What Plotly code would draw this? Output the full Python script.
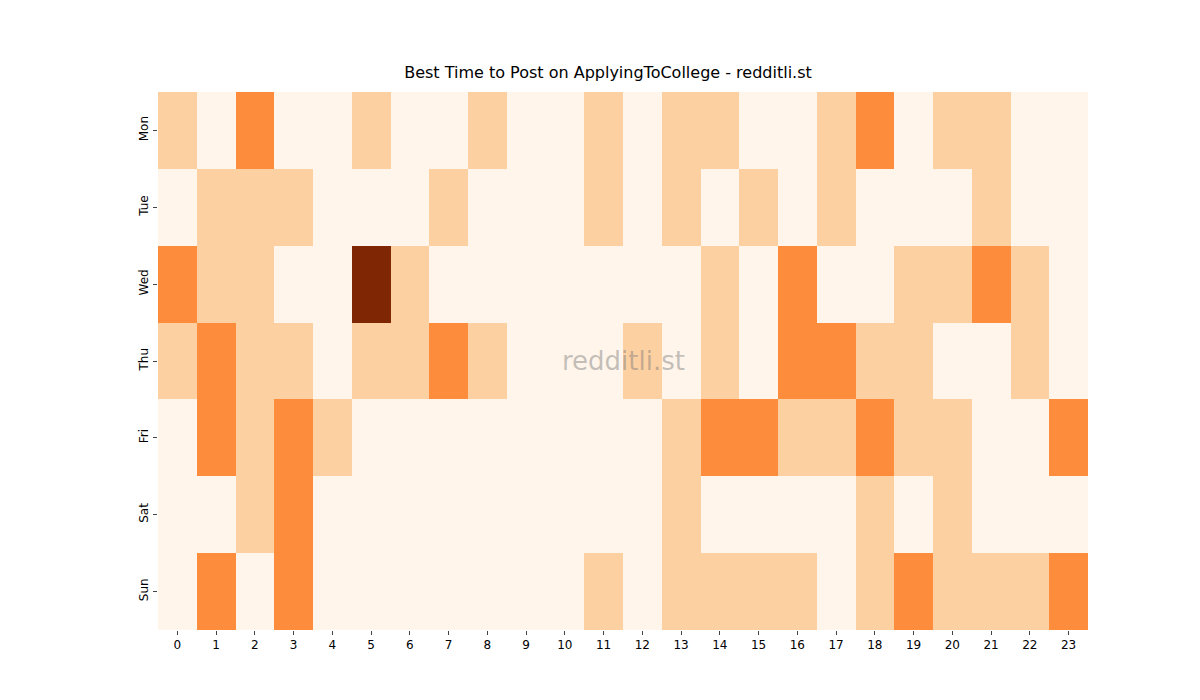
import plotly.graph_objects as go

days = ["Mon", "Tue", "Wed", "Thu", "Fri", "Sat", "Sun"]
hours = [str(h) for h in range(24)]
counts = [
    [1, 0, 2, 0, 0, 1, 0, 0, 1, 0, 0, 1, 0, 1, 1, 0, 0, 1, 2, 0, 1, 1, 0, 0],
    [0, 1, 1, 1, 0, 0, 0, 1, 0, 0, 0, 1, 0, 1, 0, 1, 0, 1, 0, 0, 0, 1, 0, 0],
    [2, 1, 1, 0, 0, 3, 1, 0, 0, 0, 0, 0, 0, 0, 1, 0, 2, 0, 0, 1, 1, 2, 1, 0],
    [1, 2, 1, 1, 0, 1, 1, 2, 1, 0, 0, 0, 1, 0, 1, 0, 2, 2, 1, 1, 0, 0, 1, 0],
    [0, 2, 1, 2, 1, 0, 0, 0, 0, 0, 0, 0, 0, 1, 2, 2, 1, 1, 2, 1, 1, 0, 0, 2],
    [0, 0, 1, 2, 0, 0, 0, 0, 0, 0, 0, 0, 0, 1, 0, 0, 0, 0, 1, 0, 1, 0, 0, 0],
    [0, 2, 0, 2, 0, 0, 0, 0, 0, 0, 0, 1, 0, 1, 1, 1, 1, 0, 1, 2, 1, 1, 1, 2],
]

colors = ["#fff5eb", "#fdd0a2", "#fd8d3c", "#7f2704"]
scale = []
for i, c in enumerate(colors):
    scale.append([i / 4, c])
    scale.append([(i + 1) / 4, c])

fig = go.Figure(go.Heatmap(z=counts, x=hours, y=days, colorscale=scale,
                           zmin=-0.5, zmax=3.5, showscale=False, hoverongaps=False))

fig.add_annotation(text="redditli.st", x=0.5, y=0.5, xref="paper", yref="paper",
                   showarrow=False, font=dict(size=26, color="rgba(120,120,120,0.45)"))

fig.update_layout(
    width=1200, height=700,
    margin=dict(l=150, r=120, t=84, b=78),
    paper_bgcolor="white", plot_bgcolor="white",
    font=dict(family="DejaVu Sans", size=12, color="black"),
    title=dict(text="Best Time to Post on ApplyingToCollege - redditli.st",
               x=0.5, xanchor="center", y=0.9, yanchor="bottom", font=dict(size=16)),
)
fig.update_xaxes(ticks="outside", ticklen=4, showgrid=False, tickfont=dict(size=12))
fig.update_yaxes(autorange="reversed", ticks="outside", ticklen=4, showgrid=False,
                 tickangle=-90, tickfont=dict(size=12))

fig.write_html("out.html")
